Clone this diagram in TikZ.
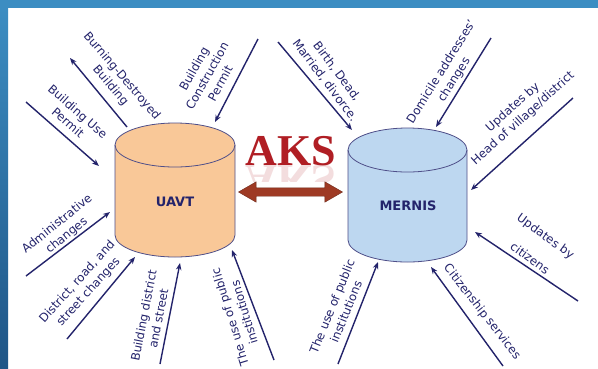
\documentclass[tikz,border=0pt]{standalone}
\usepackage{fontspec}
\setmainfont{DejaVu Sans}
\newfontfamily\aksfont{Liberation Serif}
\usetikzlibrary{arrows.meta,shapes.arrows}
\definecolor{navy}{HTML}{23236B}
\definecolor{frameblue}{HTML}{3C8DC2}
\definecolor{framedark}{HTML}{1F5586}
\definecolor{uavtfill}{HTML}{F9C898}
\definecolor{mernisfill}{HTML}{BDD7F0}
\definecolor{aksred}{HTML}{B01E24}
\definecolor{linkred}{HTML}{9E3A24}
\tikzset{
  feed/.style={navy, line width=1.4pt, -{Stealth[length=7pt,width=5.5pt]}},
  lbl/.style={text=navy, align=center, inner sep=0pt, font=\fontsize{11.8}{15}\selectfont},
  dbname/.style={text=navy, font=\bfseries\fontsize{13}{15}\selectfont},
  dbedge/.style={draw=navy!80!white, line width=0.8pt}
}
\begin{document}
\begin{tikzpicture}[x=1pt,y=-1pt] % image coordinates, y downwards
  \useasboundingbox (0,0) rectangle (598,368);
  \fill[white] (0,0) rectangle (598,368);

  % Frame
  \fill[frameblue] (0,0) rectangle (598,8);
  \shade[top color=frameblue, bottom color=framedark] (0,8) rectangle (8,368);

  % Draw cylinders
  \path[fill=uavtfill, dbedge] (115,145) -- (115,235) arc[start angle=180, end angle=360, x radius=60pt, y radius=22pt]
    -- (235,145) arc[start angle=0, end angle=180, x radius=60pt, y radius=22pt] -- cycle;
  \draw[dbedge] (115,145) arc[start angle=180, end angle=360, x radius=60pt, y radius=22pt];
  \path[fill=mernisfill, dbedge] (348,150) -- (348,240) arc[start angle=180, end angle=360, x radius=59.5pt, y radius=22pt]
    -- (467,150) arc[start angle=0, end angle=180, x radius=59.5pt, y radius=22pt] -- cycle;
  \draw[dbedge] (348,150) arc[start angle=180, end angle=360, x radius=59.5pt, y radius=22pt];
  \node[dbname] (uavt) at (175,202) {UAVT};
  \node[dbname] (mernis) at (408,206) {MERNIS};

  % AKS link
  \node[text=aksred, font=\aksfont\bfseries\fontsize{44}{44}\selectfont, anchor=base, inner sep=0pt] (aks) at (291,165) {AKS};
  \begin{scope}
    \clip (230,165) rectangle (350,181);
    \node[text=aksred, opacity=0.15, font=\aksfont\bfseries\fontsize{44}{44}\selectfont, anchor=base, inner sep=0pt, yscale=-1, transform shape] (aksmirror) at (291,165) {AKS};
  \end{scope}
  \node[draw=linkred!70!black, fill=linkred, shape=double arrow, minimum height=104pt, minimum width=20pt,
    double arrow head extend=6pt, double arrow tip angle=60, inner xsep=0pt, inner ysep=4pt] (link) at (290.5,192) {};

  % Arrow end points
  \coordinate (useA) at (26,102);   \coordinate (useB) at (99,166);
  \coordinate (burnA) at (127,127); \coordinate (burnB) at (70,58);
  \coordinate (consA) at (258,39);  \coordinate (consB) at (215,122);
  \coordinate (birthA) at (278,42); \coordinate (birthB) at (352,130);
  \coordinate (domA) at (491,38);   \coordinate (domB) at (436,127);
  \coordinate (headA) at (573,98);  \coordinate (headB) at (471,190);
  \coordinate (citA) at (578,301);  \coordinate (citB) at (475,232);
  \coordinate (servA) at (503,366); \coordinate (servB) at (431,267);
  \coordinate (pubmA) at (338,364); \coordinate (pubmB) at (378,262);
  \coordinate (pubuA) at (274,360); \coordinate (pubuB) at (232,250);
  \coordinate (distA) at (160,364); \coordinate (distB) at (180,263);
  \coordinate (roadA) at (67,339);  \coordinate (roadB) at (135,257);
  \coordinate (admA) at (26,276);   \coordinate (admB) at (110,212);

  % Draw feeds
  \draw[feed] (useA) -- (useB);
  \draw[feed] (burnA) -- (burnB);
  \draw[feed] (consA) -- (consB);
  \draw[feed] (birthA) -- (birthB);
  \draw[feed] (domA) -- (domB);
  \draw[feed] (headA) -- (headB);
  \draw[feed] (citA) -- (citB);
  \draw[feed] (servA) -- (servB);
  \draw[feed] (pubmA) -- (pubmB);
  \draw[feed] (pubuA) -- (pubuB);
  \draw[feed] (distA) -- (distB);
  \draw[feed] (roadA) -- (roadB);
  \draw[feed] (admA) -- (admB);

  % Add labels
  \node[lbl, rotate=-41] (use) at (73,117) {Building Use\\Permit};
  \node[lbl, rotate=-49.5] (burn) at (116,81) {Burning-Destroyed\\Building};
  \node[lbl, rotate=61] (cons) at (207,76) {Building\\Construction\\Permit};
  \node[lbl, rotate=-53] (birth) at (331,76) {Birth, Dead,\\Married, divorce.};
  \node[lbl, rotate=58] (dom) at (448,76) {Domicile addresses'\\changes};
  \node[lbl, rotate=42] (head) at (518,113) {Updates by\\Head of village/district};
  \node[lbl, rotate=-36] (cit) at (538,247) {Updates by\\[12pt]citizens};
  \node[lbl, rotate=-52] (serv) at (482,312) {Citizenship services};
  \node[lbl, rotate=68] (pubm) at (339,309) {The use of public\\institutions};
  \node[lbl, rotate=107] (pubu) at (237,315) {The use of public\\institutions};
  \node[lbl, rotate=79] (dist) at (151,317) {Building district\\and street};
  \node[lbl, rotate=48] (road) at (83,287) {District, road, and\\street changes};
  \node[lbl, rotate=39] (adm) at (62,230) {Administrative\\changes};
\end{tikzpicture}
\end{document}
